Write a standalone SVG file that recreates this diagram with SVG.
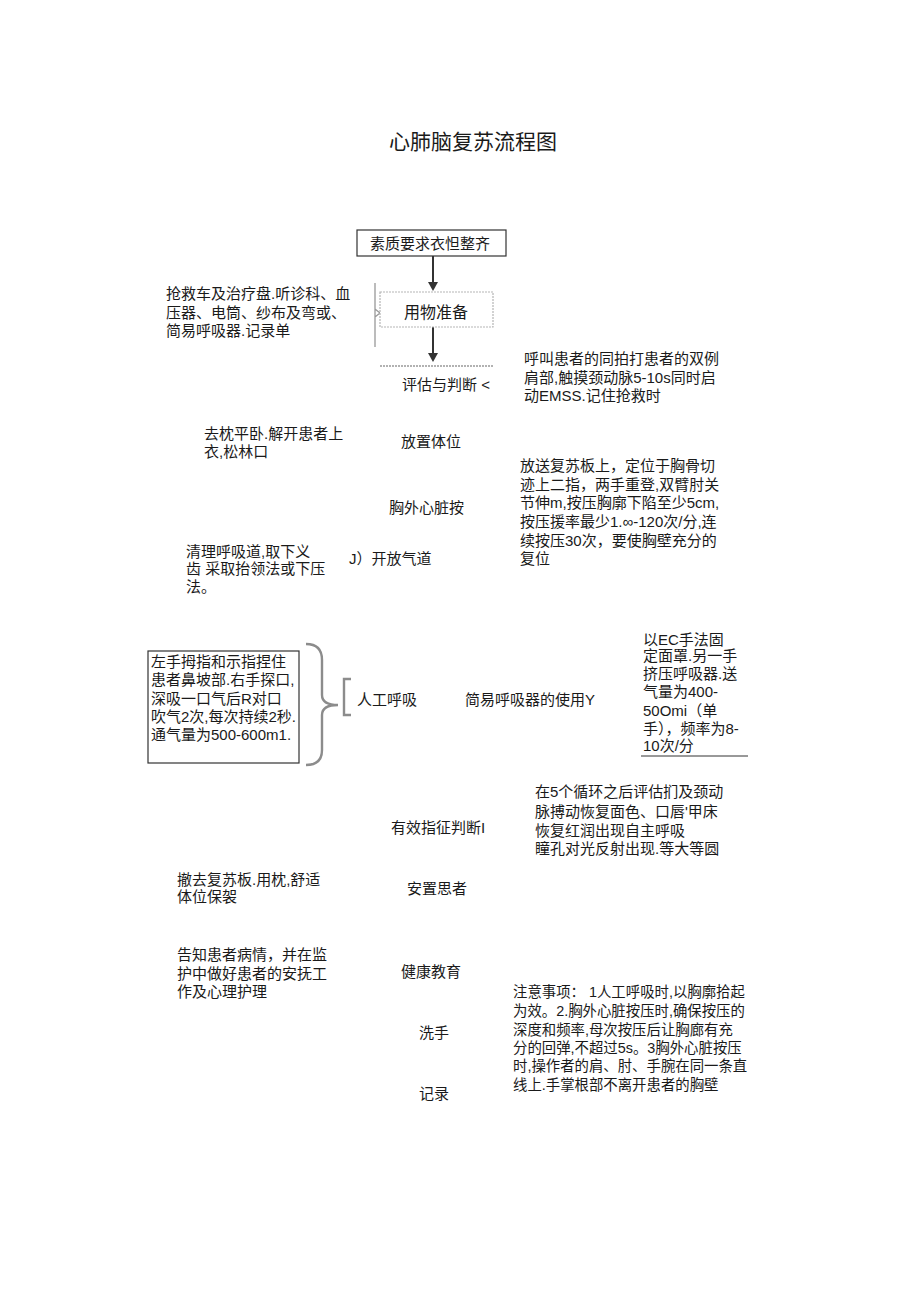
<svg xmlns="http://www.w3.org/2000/svg" width="920" height="1301" viewBox="0 0 920 1301">
<defs>
<style>
text{font-family:"Liberation Sans","Noto Sans CJK SC",sans-serif;font-size:15px;fill:#1a1a1a}
.title{font-size:21px}
.small{font-size:14.4px}
.box{fill:#fff;stroke:#333;stroke-width:1.2}
.box2{fill:#fff;stroke:#b5b5b5;stroke-width:1.2;stroke-dasharray:2 1}
.conn{stroke:#333;stroke-width:2;fill:none}
.gray{stroke:#999;stroke-width:1.3;fill:none}
.brace{stroke:#8c8c8c;stroke-width:2.4;fill:none}
</style>
</defs>
<rect width="920" height="1301" fill="#fff"/>
<text class="title" x="389" y="149">心肺脑复苏流程图</text>

<g id="connectors">
<line class="conn" x1="433" y1="256" x2="433" y2="282"/>
<path d="M428,282 L438,282 L433,291 Z" fill="#333"/>
<line class="conn" x1="433" y1="327" x2="433" y2="353"/>
<path d="M428,353 L438,353 L433,362 Z" fill="#333"/>
<line class="gray" x1="380" y1="366" x2="493" y2="366" stroke-dasharray="2 1"/>
<path class="gray" d="M375,283 L375,347 M375,309 L380,313 L375,317"/>
<path class="brace" d="M306,644 Q322,644 322,660 L322,695 Q322,705 338,705 Q322,705 322,715 L322,750 Q322,765 306,765"/>
<path class="brace" d="M351,679 L344,679 L344,715 L351,715" stroke-width="2"/>
<line x1="641" y1="756" x2="748" y2="756" stroke="#333" stroke-width="1"/>
</g>

<g id="n-suzhi">
<rect class="box" x="357" y="230" width="149" height="26"/>
<text x="370" y="249">素质要求衣怛整齐</text>
</g>
<g id="n-yongwu">
<rect class="box2" x="380" y="292" width="113" height="35"/>
<text x="404" y="318" style="font-size:16px">用物准备</text>
</g>
<g id="n-yongwu-note">
<text x="166" y="299">抢救车及治疗盘.听诊科、血</text>
<text x="166" y="318">压器、电筒、纱布及弯或、</text>
<text x="166" y="336">简易呼吸器.记录单</text>
</g>
<g id="n-pinggu">
<text x="402" y="390">评估与判断 &lt;</text>
</g>
<g id="n-pinggu-note">
<text x="524" y="364">呼叫患者的同拍打患者的双例</text>
<text x="524" y="383">肩部,触摸颈动脉5-10s同时启</text>
<text x="524" y="401">动EMSS.记住抢救时</text>
</g>
<g id="n-fangzhi">
<text x="401" y="447">放置体位</text>
</g>
<g id="n-fangzhi-note">
<text x="204" y="439">去枕平卧.解开患者上</text>
<text x="204" y="457">衣,松林口</text>
</g>
<g id="n-xiongwai">
<text x="389" y="513">胸外心脏按</text>
</g>
<g id="n-xiongwai-note">
<text x="520" y="471">放送复苏板上，定位于胸骨切</text>
<text x="520" y="490">迹上二指，两手重登,双臂肘关</text>
<text x="520" y="508">节伸m,按压胸廓下陷至少5cm,</text>
<text x="520" y="527">按压援率最少1.∞-120次/分,连</text>
<text x="520" y="546">续按压30次，要使胸壁充分的</text>
<text x="520" y="564">复位</text>
</g>
<g id="n-qidao">
<text x="349" y="564">J）开放气道</text>
</g>
<g id="n-qidao-note">
<text x="186" y="557">清理呼吸道,取下义</text>
<text x="186" y="574">齿 采取抬领法或下压</text>
<text x="186" y="592">法。</text>
</g>
<g id="n-huxi-note">
<rect class="box" x="148" y="651" width="151" height="112"/>
<text x="151" y="667">左手拇指和示指捏住</text>
<text x="151" y="685">患者鼻坡部.右手探口,</text>
<text x="151" y="704">深吸一口气后R对口</text>
<text x="151" y="722">吹气2次,每次持续2秒.</text>
<text x="151" y="740">通气量为500-600m1.</text>
</g>
<g id="n-huxi">
<text x="357" y="705">人工呼吸</text>
</g>
<g id="n-jianyi">
<text x="465" y="705">简易呼吸器的使用Y</text>
</g>
<g id="n-jianyi-note">
<text x="643" y="645">以EC手法固</text>
<text x="643" y="661">定面罩.另一手</text>
<text x="643" y="679">挤压呼吸器.送</text>
<text x="643" y="697">气量为400-</text>
<text x="643" y="716">50Omi（单</text>
<text x="643" y="734">手），频率为8-</text>
<text x="643" y="751">10次/分</text>
</g>
<g id="n-youxiao">
<text x="391" y="833">有效指征判断I</text>
</g>
<g id="n-youxiao-note">
<text x="535" y="797">在5个循环之后评估扪及颈动</text>
<text x="535" y="817">脉搏动恢复面色、口唇'甲床</text>
<text x="535" y="836">恢复红润出现自主呼吸</text>
<text x="535" y="854">瞳孔对光反射出现.等大等圆</text>
</g>
<g id="n-anzhi">
<text x="407" y="894">安置思者</text>
</g>
<g id="n-anzhi-note">
<text x="177" y="885">撤去复苏板.用枕,舒适</text>
<text x="177" y="902">体位保袈</text>
</g>
<g id="n-jiankang">
<text x="401" y="977">健康教育</text>
</g>
<g id="n-jiankang-note">
<text x="177" y="960">告知患者病情，并在监</text>
<text x="177" y="979">护中做好患者的安抚工</text>
<text x="177" y="997">作及心理护理</text>
</g>
<g id="n-xishou">
<text x="419" y="1038">洗手</text>
</g>
<g id="n-jilu">
<text x="419" y="1099">记录</text>
</g>
<g id="n-zhuyi" class="small">
<text class="small" x="513" y="997">注意事项： 1人工呼吸时,以胸廓拾起</text>
<text class="small" x="513" y="1016">为效。2.胸外心脏按压时,确保按压的</text>
<text class="small" x="513" y="1035">深度和频率,母次按压后让胸廊有充</text>
<text class="small" x="513" y="1053">分的回弹,不超过5s。3胸外心脏按压</text>
<text class="small" x="513" y="1071">时,操作者的肩、肘、手腕在同一条直</text>
<text class="small" x="513" y="1090">线上.手掌根部不离开患者的胸壁</text>
</g>
</svg>
